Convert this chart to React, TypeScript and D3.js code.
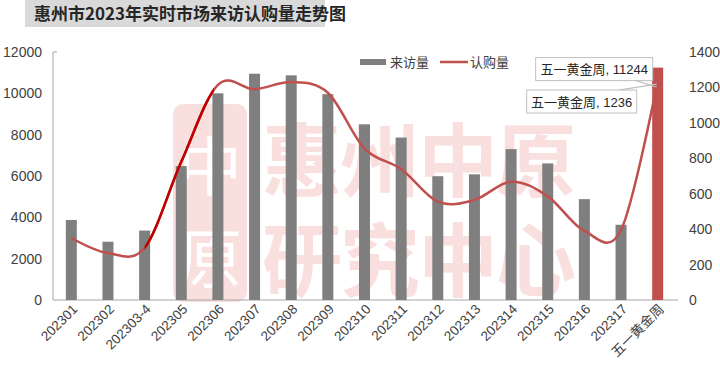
import React, { useEffect, useRef } from "react";
import * as d3 from "d3";

const categories = [
  "202301", "202302", "202303-4", "202305", "202306", "202307", "202308", "202309",
  "202310", "202311", "202312", "202313", "202314", "202315", "202316", "202317", "五一黄金周",
];
const visits = [3870, 2820, 3360, 6480, 10000, 10950, 10870, 9960, 8500, 7860, 5990, 6080, 7300, 6610, 4880, 3640, 11244];
const subscriptions = [350, 265, 295, 780, 1215, 1190, 1230, 1170, 855, 740, 555, 565, 668, 585, 390, 395, 1236];
const leftTicks = [0, 2000, 4000, 6000, 8000, 10000, 12000];
const rightTicks = [0, 200, 400, 600, 800, 1000, 1200, 1400];

const CJK = "'Noto Sans CJK SC', sans-serif";
const FONT = "'Liberation Sans', Arial, 'Noto Sans CJK SC', sans-serif";

export default function App() {
  const ref = useRef<SVGSVGElement>(null);

  useEffect(() => {
    document.body.style.margin = "0";
    const svg = d3.select(ref.current);
    svg.selectAll("*").remove();

    const left = 53, right = 676, top = 52, bottom = 300;
    const x = d3.scaleBand().domain(categories).range([left, right]).paddingInner(0.7).paddingOuter(0.35);
    const yL = d3.scaleLinear().domain([0, 12000]).range([bottom, top]);
    const yR = d3.scaleLinear().domain([0, 1400]).range([bottom, top]);
    const cx = (c: string) => (x(c) as number) + x.bandwidth() / 2;

    // title
    svg.append("rect").attr("x", 25).attr("y", 0).attr("width", 300).attr("height", 27).attr("fill", "#D9D9D9");
    svg.append("text").attr("x", 34).attr("y", 20).attr("font-family", CJK).attr("font-size", 17)
      .attr("font-weight", "bold").attr("fill", "#262626").text("惠州市2023年实时市场来访认购量走势图");

    // watermark
    const wm = svg.append("g").attr("opacity", 0.4);
    wm.append("rect").attr("x", 173).attr("y", 104).attr("width", 74).attr("height", 198).attr("rx", 10)
      .attr("fill", "#F4B0B0");
    wm.append("text").attr("x", 210).attr("y", 190).attr("text-anchor", "middle").attr("font-family", CJK)
      .attr("font-size", 64).attr("fill", "#fff").text("中");
    wm.append("text").attr("x", 210).attr("y", 282).attr("text-anchor", "middle").attr("font-family", CJK)
      .attr("font-size", 64).attr("fill", "#fff").text("原");
    ["惠州中原", "研究中心"].forEach((t, i) => {
      wm.append("text").attr("x", 262).attr("y", 190 + i * 100).attr("font-family", CJK)
        .attr("font-size", 80).attr("font-weight", "bold").attr("letter-spacing", -2)
        .attr("fill", "#F4B0B0").text(t);
    });

    // axes
    svg.append("line").attr("x1", left).attr("x2", left).attr("y1", top).attr("y2", bottom).attr("stroke", "#A6A6A6");
    svg.append("line").attr("x1", left).attr("x2", left + 4).attr("y1", top).attr("y2", top).attr("stroke", "#A6A6A6");
    svg.append("line").attr("x1", left).attr("x2", right + 2).attr("y1", bottom).attr("y2", bottom).attr("stroke", "#A6A6A6");

    svg.append("g").selectAll("text").data(leftTicks).join("text")
      .attr("x", 42).attr("y", (d) => yL(d) + 5).attr("text-anchor", "end")
      .attr("font-family", FONT).attr("font-size", 14).attr("fill", "#404040").text((d) => d);
    svg.append("g").selectAll("text").data(rightTicks).join("text")
      .attr("x", 689).attr("y", (d) => yR(d) + 5).attr("text-anchor", "start")
      .attr("font-family", FONT).attr("font-size", 14).attr("fill", "#404040").text((d) => d);

    svg.append("g").selectAll("text").data(categories).join("text")
      .attr("transform", (d) => `translate(${cx(d) + 7},${bottom + 10}) rotate(-45)`)
      .attr("text-anchor", "end").attr("font-family", FONT).attr("font-size", 13.5)
      .attr("fill", "#404040").text((d) => d);

    // bars
    svg.append("g").selectAll("rect").data(visits).join("rect")
      .attr("x", (_, i) => x(categories[i]) as number)
      .attr("y", (d) => yL(d))
      .attr("width", x.bandwidth())
      .attr("height", (d) => bottom - yL(d))
      .attr("fill", (_, i) => (i === categories.length - 1 ? "#C0504D" : "#7F7F7F"));

    // line
    const lineGen = d3.line<number>()
      .x((_, i) => cx(categories[i]))
      .y((d) => yR(d))
      .curve(d3.curveCardinal.tension(0));
    svg.append("path").attr("d", lineGen(subscriptions)).attr("fill", "none")
      .attr("stroke", "#C0504D").attr("stroke-width", 2.5);
    svg.append("clipPath").attr("id", "darkseg").append("rect")
      .attr("x", cx(categories[2])).attr("y", 0)
      .attr("width", cx(categories[4]) - cx(categories[2]) - 4).attr("height", 388);
    svg.append("path").attr("d", lineGen(subscriptions)).attr("fill", "none")
      .attr("clip-path", "url(#darkseg)").attr("stroke", "#C00000").attr("stroke-width", 2.5);

    // legend
    svg.append("rect").attr("x", 360).attr("y", 59).attr("width", 26).attr("height", 6).attr("fill", "#7F7F7F");
    svg.append("text").attr("x", 390).attr("y", 67).attr("font-family", CJK).attr("font-size", 13)
      .attr("fill", "#404040").text("来访量");
    svg.append("line").attr("x1", 440).attr("x2", 468).attr("y1", 62).attr("y2", 62)
      .attr("stroke", "#C0504D").attr("stroke-width", 2.5);
    svg.append("text").attr("x", 470).attr("y", 67).attr("font-family", CJK).attr("font-size", 13)
      .attr("fill", "#404040").text("认购量");

    // data labels for last category
    const last = categories.length - 1;
    const lx = cx(categories[last]);
    const vTop = yL(visits[last]);
    const sTop = yR(subscriptions[last]);
    const labels = [
      { text: `${categories[last]}, ${visits[last]}`, x1: lx - 122, y1: vTop - 10, w: 117 },
      { text: `${categories[last]}, ${subscriptions[last]}`, x1: lx - 131, y1: sTop + 9, w: 110 },
    ];
    svg.append("line").attr("x1", labels[0].x1 + 97).attr("y1", labels[0].y1 + 22)
      .attr("x2", lx - 1).attr("y2", sTop + 6).attr("stroke", "#BFBFBF").attr("stroke-width", 1.2);
    svg.append("line").attr("x1", labels[1].x1 + 92).attr("y1", labels[1].y1)
      .attr("x2", lx - 1).attr("y2", sTop + 3).attr("stroke", "#BFBFBF").attr("stroke-width", 1.2);
    labels.forEach((l) => {
      svg.append("rect").attr("x", l.x1).attr("y", l.y1).attr("width", l.w).attr("height", 23)
        .attr("fill", "#fff").attr("stroke", "#BFBFBF");
      svg.append("text").attr("x", l.x1 + l.w / 2).attr("y", l.y1 + 16.5).attr("text-anchor", "middle")
        .attr("font-family", FONT).attr("font-size", 13).attr("fill", "#262626").text(l.text);
    });
  }, []);

  return <svg ref={ref} width={720} height={388} style={{ display: "block", background: "#fff" }} />;
}
